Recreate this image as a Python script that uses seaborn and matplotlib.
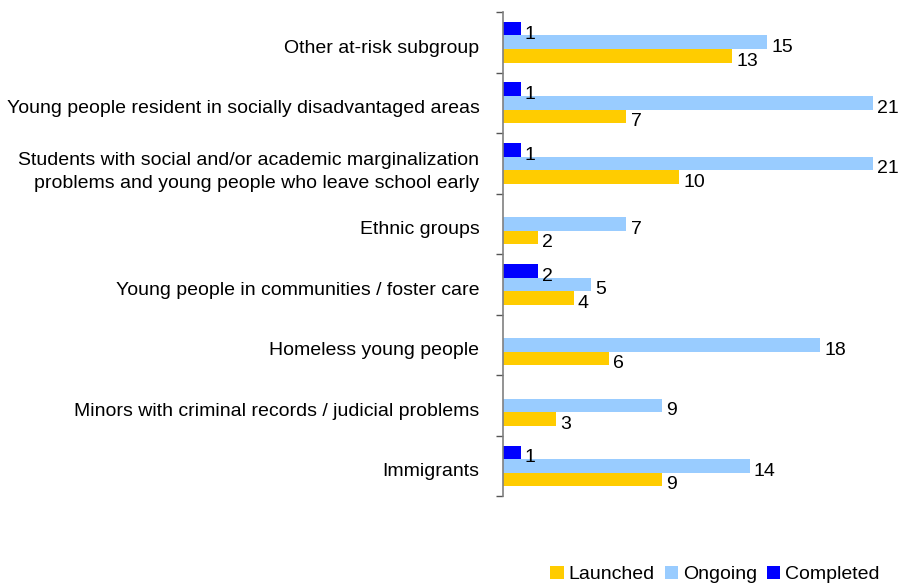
import matplotlib
matplotlib.use("Agg")
import matplotlib.pyplot as plt
import matplotlib.transforms as mtransforms
from matplotlib.patches import Patch
import seaborn as sns
import pandas as pd

categories = [
    "Other at-risk subgroup",
    "Young people resident in socially disadvantaged areas",
    "Students with social and/or academic marginalization\nproblems and young people who leave school early",
    "Ethnic groups",
    "Young people in communities / foster care",
    "Homeless young people",
    "Minors with criminal records / judicial problems",
    "Immigrants",
]
completed = [1, 1, 1, 0, 2, 0, 0, 1]
ongoing = [15, 21, 21, 7, 5, 18, 9, 14]
launched = [13, 7, 10, 2, 4, 6, 3, 9]

series_order = ["Completed", "Ongoing", "Launched"]
colors = {"Launched": "#FFCC00", "Ongoing": "#99CCFF", "Completed": "#0000FF"}

df = pd.concat([
    pd.DataFrame({"category": categories, "status": "Completed", "count": completed}),
    pd.DataFrame({"category": categories, "status": "Ongoing", "count": ongoing}),
    pd.DataFrame({"category": categories, "status": "Launched", "count": launched}),
])

sns.set_theme(style="white")
plt.rcParams["font.family"] = ["Liberation Sans", "DejaVu Sans"]
plt.rcParams["text.color"] = "black"
plt.rcParams["ytick.labelcolor"] = "black"

fs = 14

fig = plt.figure(figsize=(9, 5.85), dpi=100)
ax = fig.add_axes([0.559, 0.152, 0.411, 0.8275])

sns.barplot(data=df, y="category", x="count", hue="status", hue_order=series_order,
            order=categories, palette=colors, orient="h", width=0.67,
            saturation=1, linewidth=0, ax=ax, legend=False)

for cont in ax.containers:
    vals = [p.get_width() for p in cont]
    labels = [f"{v:g}" if v > 0 else "" for v in vals]
    anns = ax.bar_label(cont, labels=labels, padding=4, fontsize=fs,
                        color="black", clip_on=False)
    for a in anns:
        a.xyann = (3, -4)

ax.set_xlim(0, 21)
ax.set_ylim(7.5, -0.5)
ax.set_xlabel("")
ax.set_ylabel("")
ax.set_xticks([])
ax.set_yticks(range(len(categories)))
ax.set_yticklabels(categories, fontsize=fs, linespacing=1.42, color="black")
ax.set_yticks([i - 0.5 for i in range(len(categories) + 1)], minor=True)
ax.tick_params(axis="y", which="major", length=0, pad=17)
ax.tick_params(axis="y", which="minor", length=5, width=1, color="#555555", left=True)
shift = mtransforms.ScaledTranslation(0, -4 / 100, fig.dpi_scale_trans)
for lbl in ax.get_yticklabels():
    lbl.set_transform(lbl.get_transform() + shift)
for s in ["top", "right", "bottom"]:
    ax.spines[s].set_visible(False)
ax.spines["left"].set_color("#808080")
ax.spines["left"].set_linewidth(1.2)

handles = [Patch(facecolor=colors[k], edgecolor="none") for k in ["Launched", "Ongoing", "Completed"]]
fig.legend(handles, ["Launched", "Ongoing", "Completed"], loc="lower right",
           bbox_to_anchor=(0.997, -0.027), ncol=3, frameon=False, fontsize=fs,
           handlelength=0.7, handleheight=0.7, handletextpad=0.25, columnspacing=0.5)

fig.savefig("out.png", dpi=100)
